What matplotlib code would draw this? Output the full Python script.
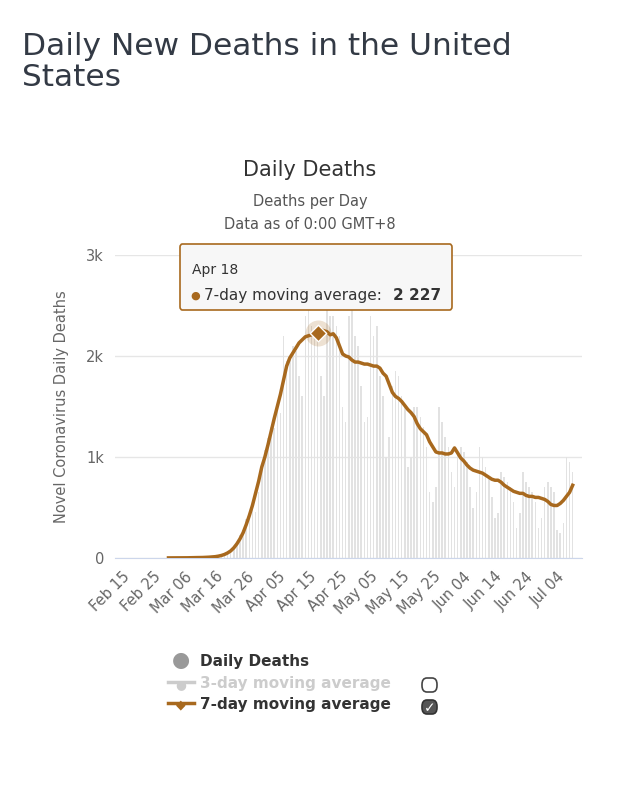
import numpy as np
import matplotlib.pyplot as plt
from matplotlib.patches import FancyBboxPatch

# days counted from Feb 15 (day 0); data starts Mar 1 (day 15)
start_day = 15
tick_labels = ["Feb 15", "Feb 25", "Mar 06", "Mar 16", "Mar 26", "Apr 05", "Apr 15", "Apr 25",
               "May 05", "May 15", "May 25", "Jun 04", "Jun 14", "Jun 24", "Jul 04"]

daily = [1, 0, 2, 4, 1, 2, 3, 4, 5, 8, 7, 10, 10, 12,
         12, 20, 25, 30, 45, 60, 80, 110, 150, 230, 280, 390, 470, 520, 460, 650, 910,
         1070, 1190, 1300, 1290, 1500, 1440, 2200, 1950, 2000, 2100, 2050, 1800, 1600, 2400, 2600,
         2300, 2200, 2200, 1800, 1600, 2600, 2400, 2400, 2300, 2200, 1500, 1350, 2400, 2600, 2200,
         2100, 1700, 1350, 1400, 2400, 2200, 2300, 1800, 1600, 1000, 1200, 1700, 1850, 1800, 1600,
         1500, 900, 1000, 1500, 1500, 1400, 1300, 1100, 650, 550, 700, 1500, 1350, 1200, 1100, 850,
         700, 1050, 1100, 1050, 950, 700, 500, 650, 1100, 1000, 900, 800, 600, 400, 450,
         850, 800, 750, 700, 550, 300, 450, 850, 750, 700, 650, 550, 300, 400, 700,
         750, 700, 650, 280, 250, 350, 1000, 950, 850]

ma7 = [1, 1, 1, 1, 2, 2, 2, 3, 3, 4, 4, 5, 6, 8,
       10, 13, 18, 25, 35, 50, 70, 100, 140, 190, 250, 330, 420, 520, 640, 760, 900,
       1000, 1120, 1250, 1380, 1500, 1620, 1760, 1900, 1980, 2030, 2080, 2130, 2160, 2190, 2200,
       2210, 2220, 2227, 2260, 2250, 2240, 2210, 2220, 2180, 2100, 2020, 2000, 1990, 1960, 1940,
       1940, 1930, 1920, 1920, 1910, 1900, 1900, 1880, 1830, 1800, 1720, 1640, 1600, 1580, 1550,
       1510, 1470, 1440, 1400, 1330, 1280, 1250, 1220, 1150, 1100, 1050, 1040, 1040, 1030, 1030, 1040,
       1090, 1040, 990, 960, 920, 890, 870, 860, 850, 840, 820, 800, 780, 770, 770,
       750, 720, 700, 680, 660, 650, 640, 640, 620, 610, 610, 600, 600, 590, 580,
       560, 530, 520, 520, 540, 570, 610, 650, 720]

hover_day = 63  # Apr 18
hover_val = 2227

days = np.arange(start_day, start_day + len(ma7))
brown = "#a8691e"

fig = plt.figure(figsize=(6.2, 8), dpi=100)
fig.text(0.035, 0.96, "Daily New Deaths in the United\nStates", fontsize=22.5, color="#333a45",
         va="top", ha="left", linespacing=1.1)
fig.text(0.5, 0.78, "Daily Deaths", fontsize=15, color="#333333", ha="center")
fig.text(0.5, 0.743, "Deaths per Day", fontsize=10.5, color="#555555", ha="center")
fig.text(0.5, 0.714, "Data as of 0:00 GMT+8", fontsize=10.5, color="#555555", ha="center")

ax = fig.add_axes([115 / 620, 1 - 558 / 800, 467 / 620, 303 / 800])
ax.bar(np.arange(start_day, start_day + len(daily)), daily, width=0.5, color="#e2e2e2", zorder=1)
ax.plot(days, ma7, color=brown, lw=2.5, zorder=3)
ax.scatter([hover_day], [hover_val], s=350, color=brown, alpha=0.2, zorder=4, lw=0)
ax.scatter([hover_day], [hover_val], s=70, marker="D", color=brown, edgecolor="white", lw=1, zorder=5)

ax.set_xlim(-2.2, 148)
ax.set_ylim(0, 3000)
ax.set_yticks([0, 1000, 2000, 3000])
ax.set_yticklabels(["0", "1k", "2k", "3k"], color="#666666", fontsize=10.5)
ax.set_xticks(np.arange(0, 150, 10))
ax.set_xticklabels(tick_labels, rotation=45, ha="right", rotation_mode="anchor",
                   color="#666666", fontsize=10.5)
ax.tick_params(axis="both", length=0, pad=8)
ax.grid(axis="y", color="#e6e6e6", lw=1)
ax.set_axisbelow(True)
for s in ["top", "right", "left"]:
    ax.spines[s].set_visible(False)
ax.spines["bottom"].set_color("#ccd6eb")
ax.set_ylabel("Novel Coronavirus Daily Deaths", color="#666666", fontsize=10.5, labelpad=12)

# tooltip
box = FancyBboxPatch((180 / 620, 1 - 310 / 800), 272 / 620, 66 / 800,
                     boxstyle="round,pad=0,rounding_size=0.004", transform=fig.transFigure,
                     facecolor="#f7f7f7", edgecolor=brown, lw=1.2, zorder=10)
fig.patches.append(box)
fig.text(192 / 620, 1 - 274 / 800, "Apr 18", fontsize=10, color="#333333", zorder=11)
fig.text(190 / 620, 1 - 299 / 800, "\u25cf", fontsize=8, color=brown, zorder=11)
fig.text(204 / 620, 1 - 300 / 800, "7-day moving average:", fontsize=11, color="#333333", zorder=11)
fig.text(393 / 620, 1 - 300 / 800, "2 227", fontsize=11, color="#333333", weight="bold", zorder=11)

# legend
fig.text(181 / 620, 1 - 666 / 800, "\u25cf", fontsize=15, color="#999999", ha="center")
fig.text(200 / 620, 1 - 666 / 800, "Daily Deaths", fontsize=11, weight="bold", color="#333333")
fig.lines.append(plt.Line2D([168 / 620, 194 / 620], [1 - 682 / 800] * 2, transform=fig.transFigure,
                            color="#cccccc", lw=2.5))
fig.text(181 / 620, 1 - 688 / 800, "\u25cf", fontsize=9, color="#cccccc", ha="center")
fig.text(200 / 620, 1 - 688 / 800, "3-day moving average", fontsize=11, weight="bold", color="#cccccc")
fig.lines.append(plt.Line2D([168 / 620, 194 / 620], [1 - 703 / 800] * 2, transform=fig.transFigure,
                            color=brown, lw=2.5))
fig.text(181 / 620, 1 - 708 / 800, "\u25c6", fontsize=9, color=brown, ha="center")
fig.text(200 / 620, 1 - 709 / 800, "7-day moving average", fontsize=11, weight="bold", color="#333333")
fig.patches.append(FancyBboxPatch((422 / 620, 1 - 692 / 800), 15 / 620, 14 / 800,
                                  boxstyle="round,pad=0,rounding_size=0.008", transform=fig.transFigure,
                                  facecolor="white", edgecolor="#444444", lw=1.2))
fig.patches.append(FancyBboxPatch((422 / 620, 1 - 714 / 800), 15 / 620, 14 / 800,
                                  boxstyle="round,pad=0,rounding_size=0.008", transform=fig.transFigure,
                                  facecolor="#555555", edgecolor="#333333", lw=1.2))
fig.text(429.5 / 620, 1 - 708 / 800, "\u2713", fontsize=10, color="white", ha="center", va="center")

fig.savefig("out.png", dpi=100)
